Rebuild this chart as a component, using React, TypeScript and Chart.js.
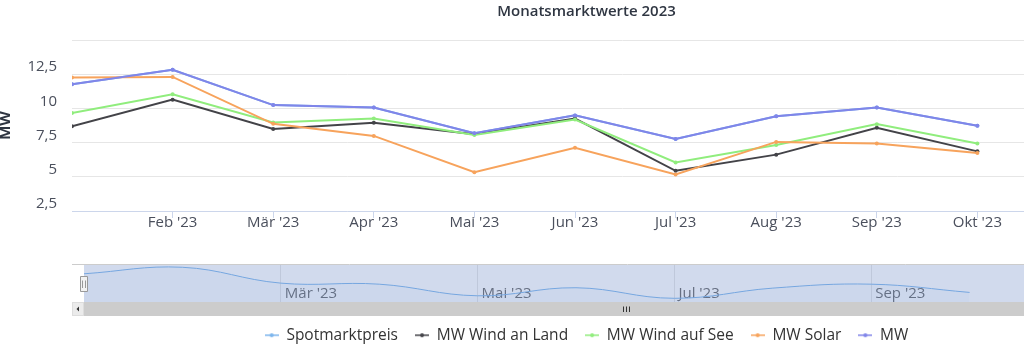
import React, { useEffect, useRef } from 'react';
import { Chart, registerables } from 'chart.js';

Chart.register(...registerables);

// ---------- data ----------
const months = ["Jan '23", "Feb '23", "Mär '23", "Apr '23", "Mai '23", "Jun '23", "Jul '23", "Aug '23", "Sep '23", "Okt '23"];
const seriesNames = ['Spotmarktpreis', 'MW Wind an Land', 'MW Wind auf See', 'MW Solar', 'MW'];
const spotmarktpreis = [11.76, 12.82, 10.24, 10.07, 8.18, 9.49, 7.77, 9.43, 10.07, 8.73];
const mwWindAnLand = [8.7, 10.64, 8.5, 8.95, 8.11, 9.26, 5.44, 6.62, 8.58, 6.86];
const mwWindAufSee = [9.66, 11.03, 8.97, 9.26, 8.06, 9.19, 6.05, 7.33, 8.85, 7.43];
const mwSolar = [12.26, 12.3, 8.87, 7.99, 5.34, 7.13, 5.17, 7.55, 7.43, 6.74];
const mw = [11.76, 12.82, 10.24, 10.07, 8.18, 9.49, 7.77, 9.43, 10.07, 8.73];
const yTickValues = [2.5, 5, 7.5, 10, 12.5, 15];
const xTickValues = [1, 2, 3, 4, 5, 6, 7, 8, 9];
const navTickValues = [2, 4, 6, 8];

// ---------- style ----------
const W = 1183;
const H = 357;
const NAV_TOP = 250;
const NAV_H = 70;
const MAIN_RIGHT = 1173;
const NAV_RIGHT = 1168;
const FONT = "'Open Sans', 'Noto Sans', sans-serif";
const colors = ['#7cb5ec', '#434348', '#90ed7d', '#f7a35c', '#8085e9'];
const LABEL_COLOR = '#4a4f5c';

const fmt = (v: number) => String(v).replace('.', ',');
const toXY = (arr: number[]) => arr.map((y, i) => ({ x: i, y }));

function legendSymbol(color: string) {
  const c = document.createElement('canvas');
  c.width = 14;
  c.height = 8;
  const ctx = c.getContext('2d')!;
  ctx.strokeStyle = color;
  ctx.lineWidth = 1.5;
  ctx.beginPath();
  ctx.moveTo(0, 4);
  ctx.lineTo(14, 4);
  ctx.stroke();
  ctx.fillStyle = color;
  ctx.beginPath();
  ctx.arc(7, 4, 2, 0, Math.PI * 2);
  ctx.fill();
  return c;
}

const navDecor = {
  id: 'navDecor',
  afterDatasetsDraw(chart: any) {
    const { ctx, chartArea: a } = chart;
    ctx.save();
    ctx.fillStyle = 'rgba(102,133,194,0.3)';
    ctx.fillRect(a.left, a.top, chart.width - a.left, a.bottom - a.top);
    ctx.restore();
  },
  afterDraw(chart: any) {
    const { ctx, chartArea: a } = chart;
    ctx.save();
    // outline
    ctx.strokeStyle = '#cccccc';
    ctx.lineWidth = 1;
    ctx.beginPath();
    ctx.moveTo(a.left - 12, a.top - 0.5);
    ctx.lineTo(chart.width, a.top - 0.5);
    ctx.stroke();
    // scrollbar
    const sbTop = a.bottom;
    const sbH = 14;
    ctx.fillStyle = '#cccccc';
    ctx.fillRect(a.left, sbTop, chart.width - a.left, sbH);
    ctx.fillStyle = '#ebebeb';
    ctx.fillRect(a.left - 12, sbTop, 12, sbH);
    ctx.strokeStyle = '#dddddd';
    ctx.strokeRect(a.left - 11.5, sbTop + 0.5, 11, sbH - 1);
    ctx.fillStyle = '#333333';
    ctx.beginPath();
    const cy = sbTop + sbH / 2;
    ctx.moveTo(a.left - 7.5, cy);
    ctx.lineTo(a.left - 5, cy - 2.5);
    ctx.lineTo(a.left - 5, cy + 2.5);
    ctx.closePath();
    ctx.fill();
    // grip
    const cx = Math.round((a.left + a.right) / 2);
    ctx.strokeStyle = '#333333';
    ctx.lineWidth = 1;
    ctx.beginPath();
    for (const dx of [-3, 0, 3]) {
      ctx.moveTo(cx + dx + 0.5, cy - 2.5);
      ctx.lineTo(cx + dx + 0.5, cy + 3);
    }
    ctx.stroke();
    // left handle
    const hy = Math.round((a.top + a.bottom) / 2);
    ctx.fillStyle = '#f2f2f2';
    ctx.strokeStyle = '#999999';
    ctx.beginPath();
    ctx.rect(a.left - 3.5, hy - 7.5, 7, 15);
    ctx.fill();
    ctx.stroke();
    ctx.beginPath();
    ctx.moveTo(a.left - 1.5, hy - 3.5);
    ctx.lineTo(a.left - 1.5, hy + 4);
    ctx.moveTo(a.left + 1.5, hy - 3.5);
    ctx.lineTo(a.left + 1.5, hy + 4);
    ctx.stroke();
    ctx.restore();
  },
};

export default function App() {
  const mainRef = useRef<HTMLCanvasElement>(null);
  const navRef = useRef<HTMLCanvasElement>(null);

  useEffect(() => {
    Chart.defaults.font.family = FONT;
    const seriesData = [spotmarktpreis, mwWindAnLand, mwWindAufSee, mwSolar, mw];
    const main = new Chart(mainRef.current!, {
      type: 'line',
      data: {
        datasets: seriesData.map((arr, i) => ({
          label: seriesNames[i],
          data: toXY(arr),
          borderColor: colors[i],
          backgroundColor: colors[i],
          pointBackgroundColor: colors[i],
          borderWidth: 2,
          pointRadius: 2,
          pointBorderWidth: 0,
          pointHoverRadius: 2,
          tension: 0,
          order: 4 - i,
        })),
      },
      options: {
        responsive: false,
        animation: false,
        events: [],
        layout: { padding: { left: 0, right: W - MAIN_RIGHT, top: 0, bottom: 4 } },
        plugins: {
          tooltip: { enabled: false },
          title: {
            display: true,
            text: 'Monatsmarktwerte 2023',
            color: '#2f3642',
            font: { family: FONT, size: 15, weight: '600', lineHeight: 1.2 },
            padding: { top: 3, bottom: 19 },
          },
          legend: {
            position: 'bottom',
            labels: {
              usePointStyle: true,
              pointStyleWidth: 14,
              padding: 17,
              color: '#333333',
              font: { family: FONT, size: 15.5 },
              generateLabels: () =>
                seriesNames.map((t, i) => ({
                  text: t,
                  fillStyle: colors[i],
                  strokeStyle: colors[i],
                  lineWidth: 0,
                  pointStyle: legendSymbol(colors[i]),
                  hidden: false,
                  datasetIndex: i,
                  fontColor: '#333333',
                })),
            },
          },
        },
        scales: {
          x: {
            type: 'linear',
            min: 0,
            max: (MAIN_RIGHT - 72) / 100.6,
            afterBuildTicks: (s: any) => {
              s.ticks = xTickValues.map((v) => ({ value: v }));
            },
            afterFit: (s: any) => {
              s.height = 99.5;
            },
            ticks: {
              autoSkip: false,
              maxRotation: 0,
              padding: -4,
              color: LABEL_COLOR,
              font: { family: FONT, size: 15 },
              callback: (v: any) => months[Math.round(Number(v))] ?? '',
            },
            grid: { drawOnChartArea: false, drawTicks: true, tickLength: 7, tickColor: '#ccd6eb' },
            border: { color: '#ccd6eb', width: 1 },
          },
          y: {
            min: 2.5,
            max: 15,
            afterBuildTicks: (s: any) => {
              s.ticks = yTickValues.map((v) => ({ value: v }));
            },
            afterFit: (s: any) => {
              s.width = 72;
            },
            ticks: {
              padding: 15,
              labelOffset: -7,
              color: LABEL_COLOR,
              font: { family: FONT, size: 15 },
              callback: (v: any) => (Number(v) === 15 ? '' : fmt(Number(v))),
            },
            grid: { color: '#e6e6e6', drawTicks: false },
            border: { display: false },
            title: {
              display: true,
              text: 'MW',
              color: '#2f3642',
              font: { family: FONT, size: 15, weight: 'bold', lineHeight: 0.8 },
              padding: 0,
            },
          },
        },
      },
    } as any);

    const nav = new Chart(navRef.current!, {
      type: 'line',
      data: {
        datasets: [
          {
            label: seriesNames[0],
            data: toXY(spotmarktpreis),
            borderColor: colors[0],
            backgroundColor: 'rgba(124,181,236,0.05)',
            fill: 'start',
            borderWidth: 1,
            pointRadius: 0,
            tension: 0.4,
          },
        ],
      },
      options: {
        responsive: false,
        animation: false,
        events: [],
        layout: { padding: { left: 84, right: W - NAV_RIGHT, top: 15, bottom: 0 } },
        plugins: { legend: { display: false }, tooltip: { enabled: false }, title: { display: false } },
        scales: {
          x: {
            type: 'linear',
            min: 0,
            max: (NAV_RIGHT - 84) / 98.4,
            afterBuildTicks: (s: any) => {
              s.ticks = navTickValues.map((v) => ({ value: v }));
            },
            afterFit: (s: any) => {
              s.height = 18;
            },
            ticks: {
              autoSkip: false,
              maxRotation: 0,
              mirror: true,
              align: 'start',
              labelOffset: 4,
              padding: -1,
              color: '#666666',
              font: { family: FONT, size: 15 },
              callback: (v: any) => months[Math.round(Number(v))] ?? '',
            },
            grid: { color: '#e6e6e6', drawTicks: false },
            border: { display: false },
          },
          y: { display: false, min: 7.17, max: 13.19 },
        },
      },
      plugins: [navDecor],
    } as any);

    return () => {
      main.destroy();
      nav.destroy();
    };
  }, []);

  return (
    <div style={{ position: 'fixed', left: 0, top: 0, width: 1024, height: H, overflow: 'hidden', background: '#fff' }}>
      <canvas ref={mainRef} width={W} height={H} style={{ position: 'absolute', left: 0, top: 0, width: W, height: H }} />
      <canvas ref={navRef} width={W} height={NAV_H} style={{ position: 'absolute', left: 0, top: NAV_TOP, width: W, height: NAV_H }} />
    </div>
  );
}
